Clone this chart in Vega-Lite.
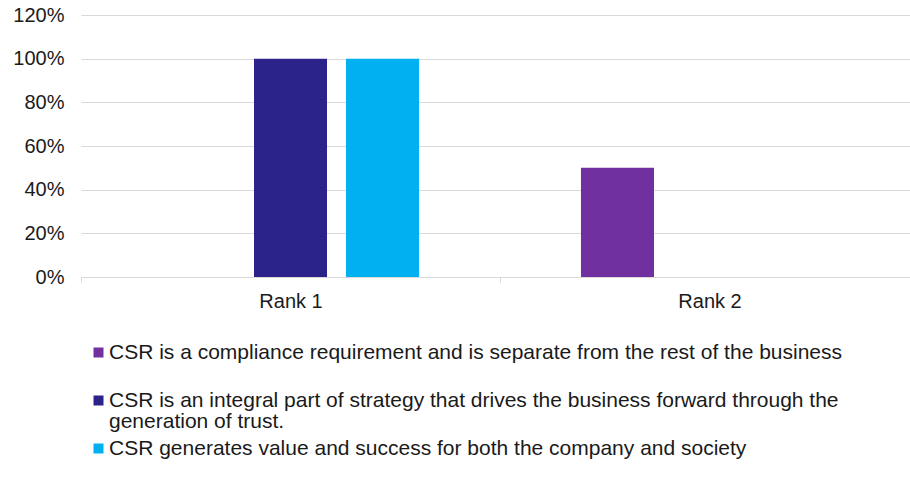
{
  "$schema": "https://vega.github.io/schema/vega-lite/v6.json",
  "width": 829,
  "height": 262,
  "autosize": {"type": "none"},
  "padding": {"left": 81, "top": 15, "right": 0, "bottom": 213},
  "background": "white",
  "config": {
    "view": {"stroke": null},
    "font": "Liberation Sans"
  },
  "data": {
    "values": [
      {"rank": "Rank 1", "series": "CSR is a compliance requirement and is separate from the rest of the business", "value": 0},
      {"rank": "Rank 1", "series": "CSR is an integral part of strategy that drives the business forward through the generation of trust.", "value": 1},
      {"rank": "Rank 1", "series": "CSR generates value and success for both the company and society", "value": 1},
      {"rank": "Rank 2", "series": "CSR is a compliance requirement and is separate from the rest of the business", "value": 0.5},
      {"rank": "Rank 2", "series": "CSR is an integral part of strategy that drives the business forward through the generation of trust.", "value": 0},
      {"rank": "Rank 2", "series": "CSR generates value and success for both the company and society", "value": 0}
    ]
  },
  "mark": {"type": "bar"},
  "encoding": {
    "x": {
      "field": "rank",
      "type": "nominal",
      "scale": {"paddingInner": 0, "paddingOuter": 0, "range": [0, 838]},
      "axis": {
        "title": null,
        "labelAngle": 0,
        "tickBand": "extent",
        "domainColor": "#D9D9D9",
        "domainWidth": 1,
        "tickColor": "#D9D9D9",
        "tickSize": 5,
        "labelFontSize": 20,
        "labelColor": "#1a1a1a",
        "labelPadding": 9
      }
    },
    "xOffset": {
      "field": "series",
      "type": "nominal",
      "sort": [
        "CSR is a compliance requirement and is separate from the rest of the business",
        "CSR is an integral part of strategy that drives the business forward through the generation of trust.",
        "CSR generates value and success for both the company and society"
      ],
      "scale": {"paddingInner": 0.2065, "paddingOuter": 0.88}
    },
    "y": {
      "field": "value",
      "type": "quantitative",
      "scale": {"domain": [0, 1.2], "nice": false},
      "axis": {
        "title": null,
        "format": ".0%",
        "values": [0, 0.2, 0.4, 0.6, 0.8, 1.0, 1.2],
        "domain": false,
        "ticks": false,
        "gridColor": "#D9D9D9",
        "gridWidth": 1,
        "labelFontSize": 20,
        "labelColor": "#1a1a1a",
        "labelPadding": 17
      }
    },
    "color": {
      "field": "series",
      "type": "nominal",
      "scale": {
        "domain": [
          "CSR is a compliance requirement and is separate from the rest of the business",
          "CSR is an integral part of strategy that drives the business forward through the generation of trust.",
          "CSR generates value and success for both the company and society"
        ],
        "range": ["#7030A0", "#2B2389", "#00B0F0"]
      },
      "legend": {
        "title": null,
        "orient": "none",
        "legendX": 7,
        "legendY": 327,
        "direction": "vertical",
        "padding": 0,
        "symbolType": "square",
        "symbolSize": 100,
        "symbolStrokeWidth": 0,
        "labelFontSize": 21,
        "labelColor": "#1a1a1a",
        "labelOffset": 0,
        "labelLimit": 900,
        "rowPadding": 5,
        "labelExpr": "datum.label == 'CSR is an integral part of strategy that drives the business forward through the generation of trust.' ? ['CSR is an integral part of strategy that drives the business forward through the', 'generation of trust.'] : [datum.label, '']",
        "encode": {
          "labels": {"update": {"lineHeight": {"value": 21}}}
        }
      }
    }
  }
}
